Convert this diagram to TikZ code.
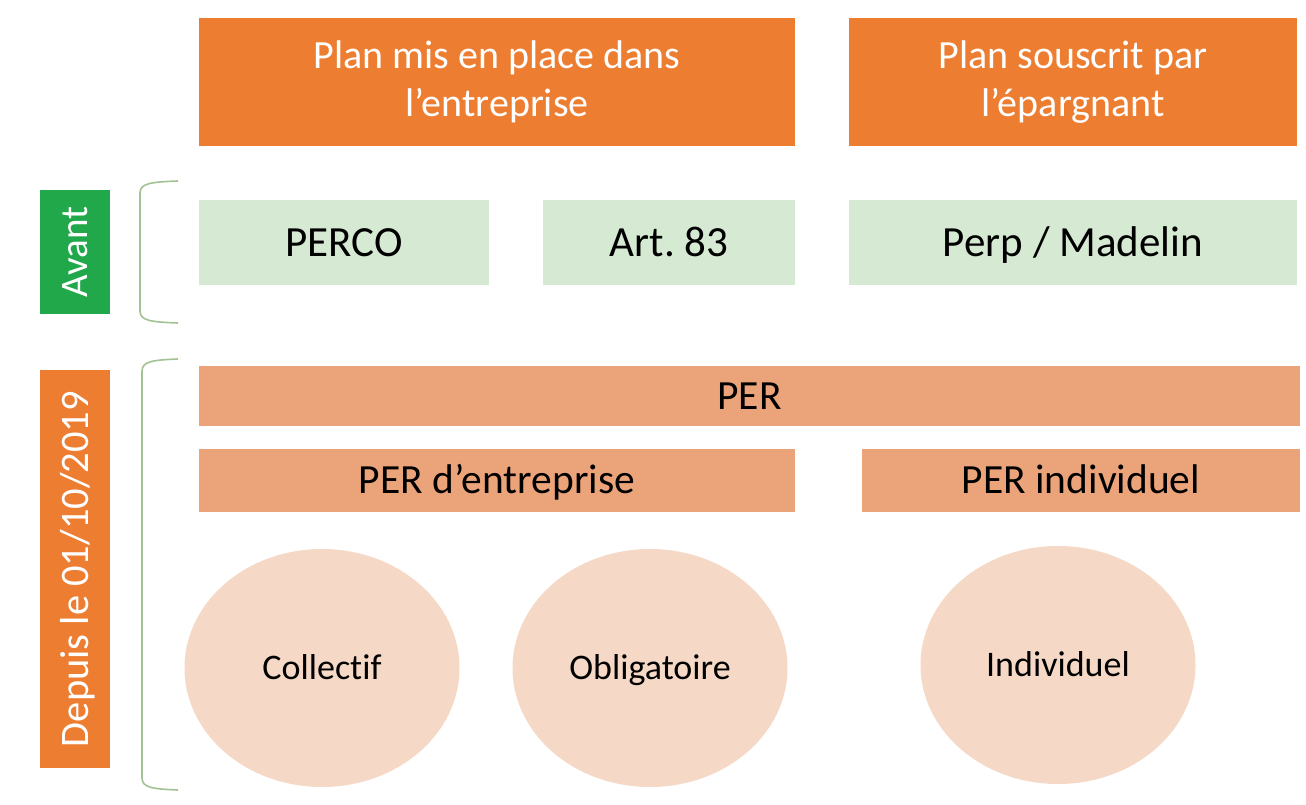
\documentclass[tikz,border=0pt]{standalone}
\usepackage{fontspec}
\setmainfont{Carlito}[Ligatures={NoCommon}]
\usetikzlibrary{shapes.geometric}
\definecolor{orangeA}{HTML}{ED7D31}
\definecolor{greenbox}{HTML}{D6E9D2}
\definecolor{greenlab}{HTML}{21A84A}
\definecolor{peach}{HTML}{EBA47A}
\definecolor{circ}{HTML}{F5D9C6}
\definecolor{brack}{HTML}{A3C293}
\tikzset{
  topbox/.style={rectangle, fill=orangeA, text=white, align=center, inner sep=0pt,
    font=\fontsize{40}{48}\selectfont},
  gbox/.style={rectangle, fill=greenbox, text=black, inner sep=0pt,
    text height=27.5pt, text depth=0pt,
    minimum height=85pt, font=\fontsize{43}{50}\selectfont},
  pbox/.style={rectangle, fill=peach, text=black, inner sep=0pt,
    text height=26.7pt, text depth=0pt,
    font=\fontsize{41.5}{48}\selectfont},
  circnode/.style={ellipse, fill=circ, text=black, inner sep=0pt,
    text height=23pt, text depth=0pt,
    minimum width=275pt, minimum height=238pt, font=\fontsize{36}{42}\selectfont},
  sidelab/.style={rectangle, rotate=90, text=white, inner sep=0pt,
    minimum height=70pt},
  bracket/.style={draw=brack, line width=1.6pt}
}
\begin{document}
\frenchspacing
\begin{tikzpicture}[x=1pt,y=-1pt]
\useasboundingbox[fill=white] (0,0) rectangle (1306,805);
% header boxes
\node[topbox, minimum width=596pt, minimum height=128pt] (top1) at (497,82) {Plan mis en place dans\\l’entreprise};
\node[topbox, minimum width=448pt, minimum height=128pt] (top2) at (1073,82) {Plan souscrit par\\l’épargnant};
% avant row
\node[gbox, minimum width=290pt] (perco) at (344,242.5) {PERCO};
\node[gbox, minimum width=252pt] (art) at (669,242.5) {Art. 83};
\node[gbox, minimum width=448pt] (perp) at (1073,242.5) {Perp / Madelin};
% side labels
\node[sidelab, fill=greenlab, minimum width=124pt, text height=25pt, text depth=0pt,
  font=\fontsize{39}{46}\selectfont] (avant) at (75,252) {Avant};
\node[sidelab, fill=orangeA, minimum width=398pt, text height=26pt, text depth=0pt,
  font=\fontsize{40.5}{48}\selectfont] (depuis) at (75,569) {Depuis le 01/10/2019};
% brackets
\coordinate (b1t) at (178,181);
\coordinate (b1b) at (178,323);
\draw[bracket] (b1t) .. controls (152,182) and (140,183) .. (140,193) -- (140,311) .. controls (140,321) and (152,322) .. (b1b);
\coordinate (b2t) at (178,359);
\coordinate (b2b) at (178,790);
\draw[bracket] (b2t) .. controls (154,360) and (142,361) .. (142,371) -- (142,778) .. controls (142,788) and (154,789) .. (b2b);
% PER rows
\node[pbox, minimum width=1101pt, minimum height=60pt] (per) at (749.5,396) {PER};
\node[pbox, minimum width=596pt, minimum height=63pt] (pere) at (497,480.5) {PER d’entreprise};
\node[pbox, minimum width=438pt, minimum height=63pt] (peri) at (1081,480.5) {PER individuel};
% circles
\node[circnode] (coll) at (322,668) {Collectif};
\node[circnode] (obl) at (650,668) {Obligatoire};
\node[circnode] (ind) at (1058,665) {Individuel};
\end{tikzpicture}
\end{document}
